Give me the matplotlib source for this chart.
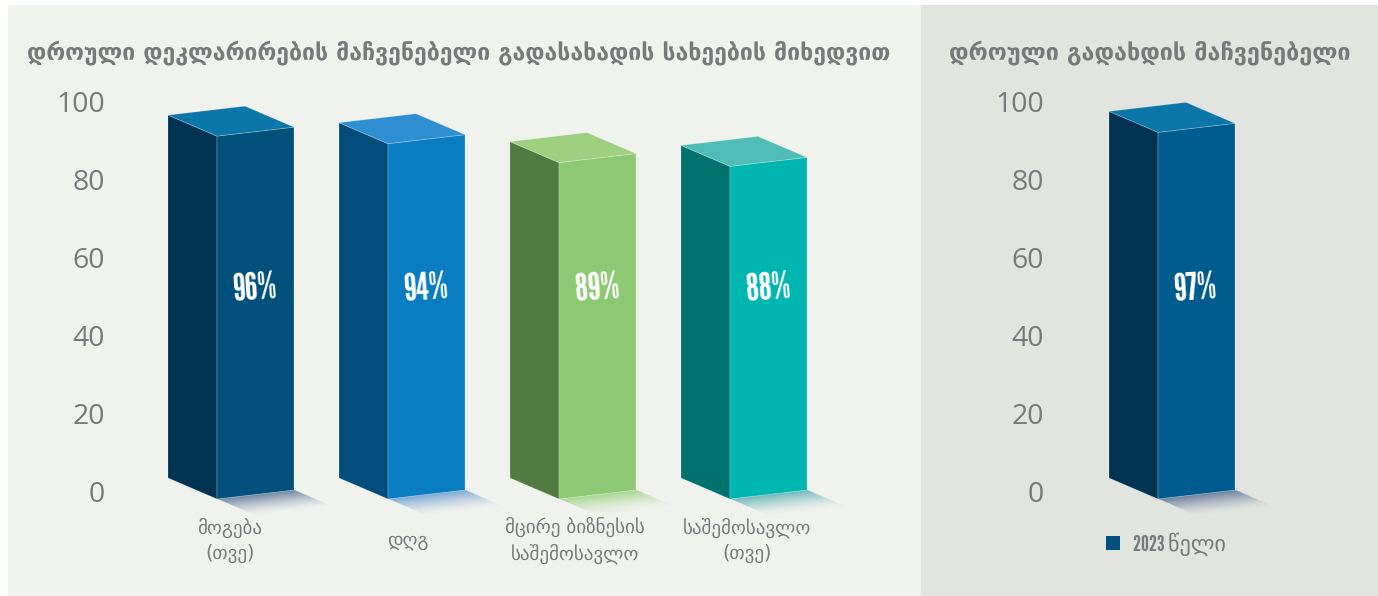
import numpy as np
import matplotlib
matplotlib.use("Agg")
import matplotlib.pyplot as plt
from matplotlib.patches import Polygon, Rectangle
from matplotlib.lines import Line2D
from matplotlib.colors import to_rgb

title_left = "დროული დეკლარირების მაჩვენებელი გადასახადის სახეების მიხედვით"
title_right = "დროული გადახდის მაჩვენებელი"
categories = ["მოგება\n(თვე)", "დღგ", "მცირე ბიზნესის\nსაშემოსავლო", "საშემოსავლო\n(თვე)"]
values = [96, 94, 89, 88]
front_colors = ["#00507c", "#0a7dc2", "#8dc972", "#00b6b0"]
side_colors = ["#003352", "#004d7c", "#527b42", "#00726e"]
top_colors = ["#0a77a8", "#2d8fd1", "#9fd080", "#50bdb7"]
shadow_colors = ["#2b4a7c", "#3f7fc8", "#7fc860", "#2a9a9e"]

right_value = [97]
right_front = ["#005b8e"]
right_side = ["#003352"]
right_top = ["#0a77a8"]
right_shadow = ["#2b4a7c"]
legend_label = "2023 წელი"

ticks = [0, 20, 40, 60, 80, 100]

W, H = 1378, 596
BG_LEFT = "#f0f2ee"
BG_RIGHT = "#e2e4e0"
GREY = "#77797b"
NARROW = ["League Gothic", "Oswald", "DejaVu Sans"]

# pixel scales of the drawing
PX_X = 171.0
PX_Y = 3.78
FRONT_W = 77 / PX_X
DEPTH_W = 49 / PX_X
DROP = 21 / PX_Y
RISE = 9 / PX_Y


def pixel_axes(fig, x0, x1, y_top, y_bottom):
    ax = fig.add_axes([x0 / W, 1 - y_bottom / H, (x1 - x0) / W, (y_bottom - y_top) / H])
    ax.patch.set_visible(False)
    return ax


def draw_shadow(ax, x, color):
    ox, oy = x + DEPTH_W, -DROP
    xs = np.linspace(ox - 0.02, ox + FRONT_W + DEPTH_W + 0.02, 200)
    ys = np.linspace(oy - DROP - 1, oy + RISE + 1, 120)
    gx, gy = np.meshgrid(xs, ys)
    m = np.linalg.inv(np.array([[FRONT_W, DEPTH_W], [RISE, -DROP]]))
    u = m[0, 0] * (gx - ox) + m[0, 1] * (gy - oy)
    t = m[1, 0] * (gx - ox) + m[1, 1] * (gy - oy)
    alpha = 0.65 * np.clip(1 - t / 0.8, 0, 1) ** 1.5
    alpha[(u < 0) | (u > 1) | (t < 0)] = 0
    img = np.zeros(gx.shape + (4,))
    img[..., :3] = to_rgb(color)
    img[..., 3] = alpha
    ax.imshow(img, extent=(xs[0], xs[-1], ys[0], ys[-1]), origin="lower", aspect="auto", zorder=1)


def draw_bar(ax, x, value, front, side, top, shadow):
    draw_shadow(ax, x, shadow)
    edge = dict(edgecolor=(1, 1, 1, 0.25), linewidth=0.6, zorder=2)
    xf = x + DEPTH_W
    xr = xf + FRONT_W
    ax.add_patch(Polygon([(x, 0), (xf, -DROP), (xf, value - DROP), (x, value)], facecolor=side, **edge))
    ax.add_patch(Polygon([(xf, -DROP), (xr, RISE - DROP), (xr, value + RISE - DROP), (xf, value - DROP)], facecolor=front, **edge))
    ax.add_patch(Polygon([(x, value), (xf, value - DROP), (xr, value + RISE - DROP), (x + FRONT_W, value + RISE)], facecolor=top, **edge))
    ax.text(x + 0.509, 50.0, "%d%%" % value, color="white", fontsize=27, rotation=4,
            ha="center", va="center", family=NARROW, zorder=3)


def draw_panel(fig, first_px, x_range, tick_right, vals, fronts, sides, tops, shadows):
    ax = pixel_axes(fig, x_range[0], x_range[1], 60, 530)
    for i in range(len(vals)):
        draw_bar(ax, i, vals[i], fronts[i], sides[i], tops[i], shadows[i])
    ax.set_xlim((x_range[0] - first_px) / PX_X, (x_range[1] - first_px) / PX_X)
    ax.set_ylim((478 - 530) / PX_Y, (478 - 60) / PX_Y)
    ax.axis("off")

    # tick labels sit on their own scale, a little wider than the bars'
    tick_ax = pixel_axes(fig, tick_right, tick_right + 10, 102, 491)
    tick_ax.set_ylim(0, 100)
    tick_ax.set_yticks(ticks)
    tick_ax.set_xticks([])
    tick_ax.tick_params(axis="y", length=0, pad=0, labelsize=20.5, labelcolor=GREY)
    for label in tick_ax.get_yticklabels():
        label.set_family("Open Sans")
    for spine in tick_ax.spines.values():
        spine.set_visible(False)
    return ax


fig = plt.figure(figsize=(W / 100, H / 100), dpi=100, facecolor="white")
fig.add_artist(Rectangle((8 / W, 0), (921 - 8) / W, 1 - 5 / H, transform=fig.transFigure, facecolor=BG_LEFT, edgecolor="none", zorder=-5))
fig.add_artist(Rectangle((921 / W, 0), (W - 921) / W, 1 - 5 / H, transform=fig.transFigure, facecolor=BG_RIGHT, edgecolor="none", zorder=-5))

ax_left = draw_panel(fig, 168, (108, 915), 105, values, front_colors, side_colors, top_colors, shadow_colors)
ax_right = draw_panel(fig, 1109, (1050, 1370), 1044, right_value, right_front, right_side, right_top, right_shadow)

fig.text(459 / W, 1 - 53 / H, title_left, fontsize=16.6, fontweight="bold", color=GREY, ha="center", va="center")
fig.text(1150 / W, 1 - 53 / H, title_right, fontsize=16.85, fontweight="bold", color=GREY, ha="center", va="center")

label_x = [230, 408, 575, 747]
for i in range(len(categories)):
    fig.text(label_x[i] / W, 1 - 540 / H, categories[i], fontsize=13.7, color=GREY, ha="center", va="center", linespacing=1.4)

handle = Line2D([], [], linestyle="none", marker="s", markersize=9.4, markeredgewidth=0, color="#00507c")
fig.legend(handles=[handle], labels=[legend_label], loc="center left", bbox_to_anchor=(1082 / W, 1 - 544 / H),
           frameon=False, handlelength=1.0, handletextpad=0.4, prop=dict(family=NARROW, size=16),
           labelcolor=GREY)

fig.savefig("out.png", dpi=100)
